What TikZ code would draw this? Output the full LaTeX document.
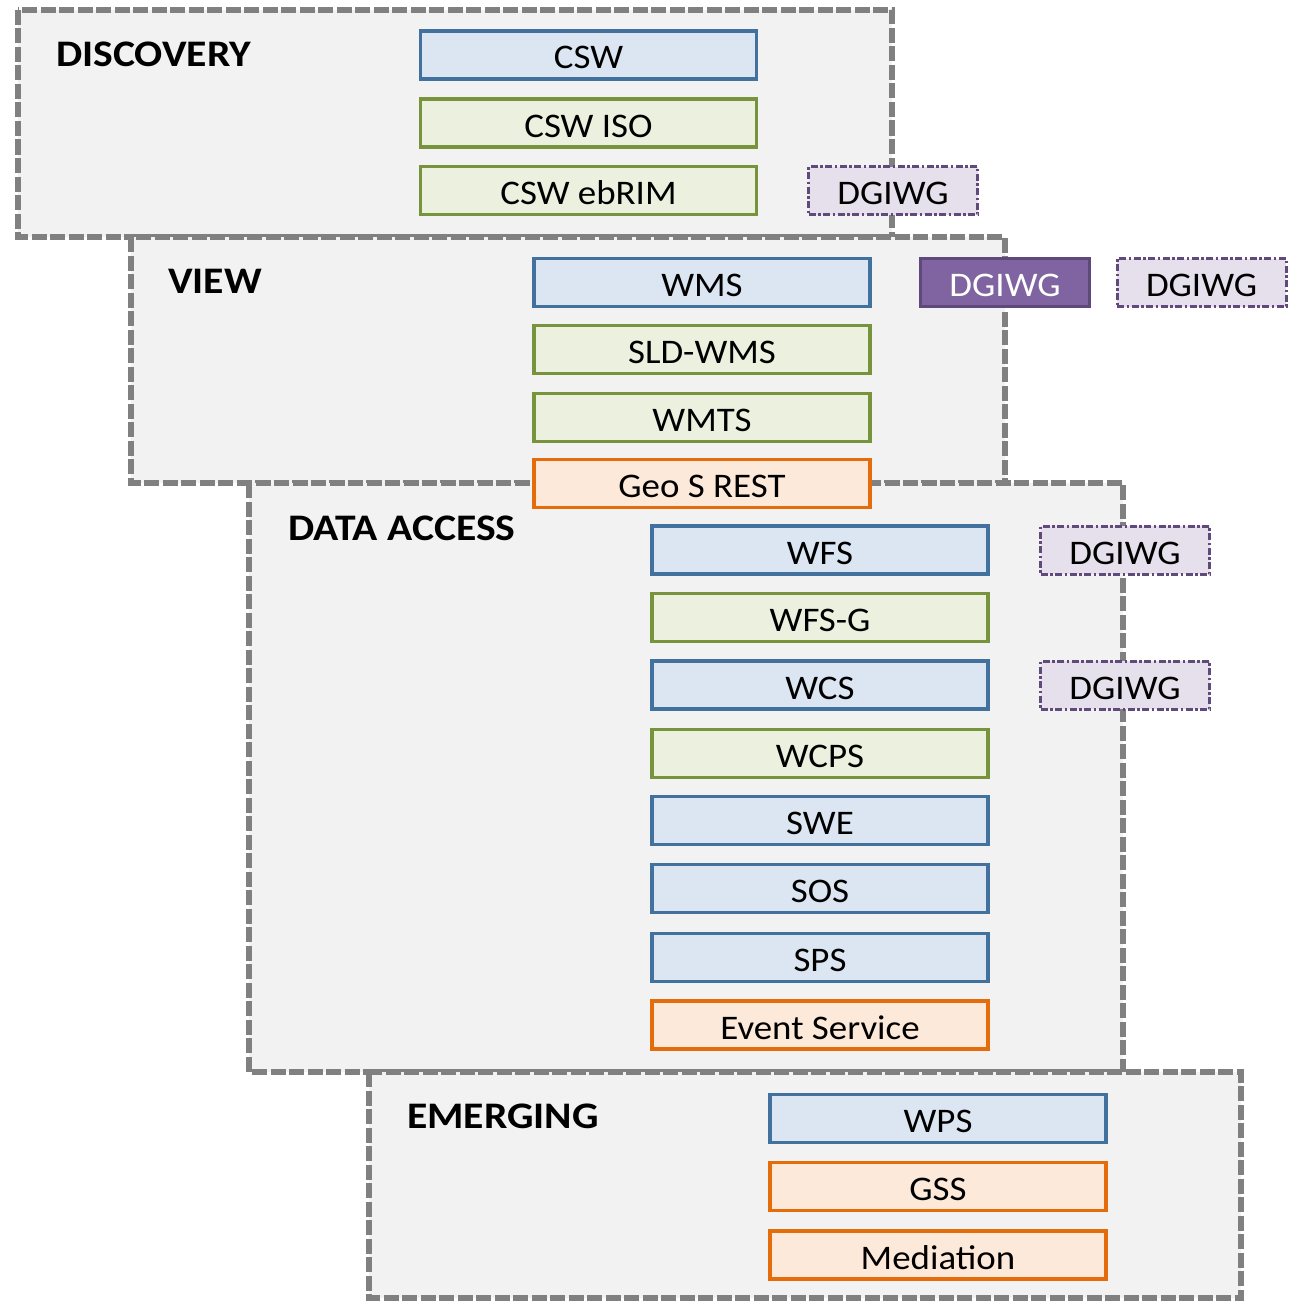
\documentclass[tikz,border=0pt]{standalone}
\usepackage{fontspec}
\setmainfont{Carlito}[FakeStretch=1.07]
\newfontfamily\titlefont{Carlito}[FakeStretch=1.11]
\definecolor{panelfill}{HTML}{F2F2F2}
\definecolor{paneldraw}{HTML}{808080}
\definecolor{bluefill}{HTML}{DCE6F2}
\definecolor{bluedraw}{HTML}{41719C}
\definecolor{greenfill}{HTML}{EBF1DE}
\definecolor{greendraw}{HTML}{77933C}
\definecolor{orangefill}{HTML}{FDE9D9}
\definecolor{orangedraw}{HTML}{E46C0A}
\definecolor{purplefill}{HTML}{8064A2}
\definecolor{purpledraw}{HTML}{5F497A}
\definecolor{lilacfill}{HTML}{E6E0EC}
\definecolor{lilacdraw}{HTML}{604A7B}
\begin{document}
\begin{tikzpicture}[x=1pt,y=-1pt,
  panel/.style={fill=panelfill,draw=paneldraw,line width=5.5pt,dash pattern=on 15pt off 3.5pt},
  paneltitle/.style={anchor=base west,inner sep=0pt,font=\titlefont\fontsize{37.5}{42}\selectfont\bfseries},
  svc/.style={minimum width=336pt,minimum height=48pt,inner sep=0pt,line width=3.2pt,
    font=\fontsize{34.5}{40}\selectfont,text height=36pt,text depth=8pt},
  bluebox/.style={svc,fill=bluefill,draw=bluedraw},
  greenbox/.style={svc,fill=greenfill,draw=greendraw},
  orangebox/.style={svc,fill=orangefill,draw=orangedraw},
  dgsolid/.style={svc,minimum width=169pt,fill=purplefill,draw=purpledraw,text=white},
  dgdash/.style={svc,minimum width=169pt,fill=lilacfill,draw=lilacdraw,line width=3pt,
    dash pattern=on 7pt off 2.5pt on 2.5pt off 2.5pt},
]
\useasboundingbox (0,0) rectangle (1294,1303);
% panels
\draw[panel] (18,10) rectangle (892,237);
\draw[panel] (131,237) rectangle (1005,483);
\draw[panel] (249,483) rectangle (1123,1072);
\draw[panel] (369,1072) rectangle (1241,1298);
\node[paneltitle] (tdisc) at (56,67) {DISCOVERY};
\node[paneltitle] (tview) at (168,293) {VIEW};
\node[paneltitle] (tdata) at (288,540) {DATA ACCESS};
\node[paneltitle] (temer) at (407,1128) {EMERGING};
% discovery
\node[bluebox] (csw) at (588.5,55) {CSW};
\node[greenbox] (cswiso) at (588.5,123) {CSW ISO};
\node[greenbox] (cswebrim) at (588.5,190.5) {CSW ebRIM};
\node[dgdash] (dg1) at (893,190.5) {DGIWG};
% view
\node[bluebox] (wms) at (702,282.5) {WMS};
\node[dgsolid] (dg2) at (1005,282.5) {DGIWG};
\node[dgdash] (dg3) at (1201.5,282.5) {DGIWG};
\node[greenbox] (sldwms) at (702,349.5) {SLD-WMS};
\node[greenbox] (wmts) at (702,417.5) {WMTS};
\node[orangebox] (geos) at (702,483.5) {Geo S REST};
% data access
\node[bluebox] (wfs) at (820,550) {WFS};
\node[dgdash] (dg4) at (1125,550) {DGIWG};
\node[greenbox] (wfsg) at (820,617.5) {WFS-G};
\node[bluebox] (wcs) at (820,685) {WCS};
\node[dgdash] (dg5) at (1125,685) {DGIWG};
\node[greenbox] (wcps) at (820,753.5) {WCPS};
\node[bluebox] (swe) at (820,820.5) {SWE};
\node[bluebox] (sos) at (820,888.5) {SOS};
\node[bluebox] (sps) at (820,957.5) {SPS};
\node[orangebox] (event) at (820,1025) {Event Service};
% emerging
\node[bluebox] (wps) at (938,1118.5) {WPS};
\node[orangebox] (gss) at (938,1186.5) {GSS};
\node[orangebox] (medi) at (938,1255) {Mediation};
\end{tikzpicture}
\end{document}
